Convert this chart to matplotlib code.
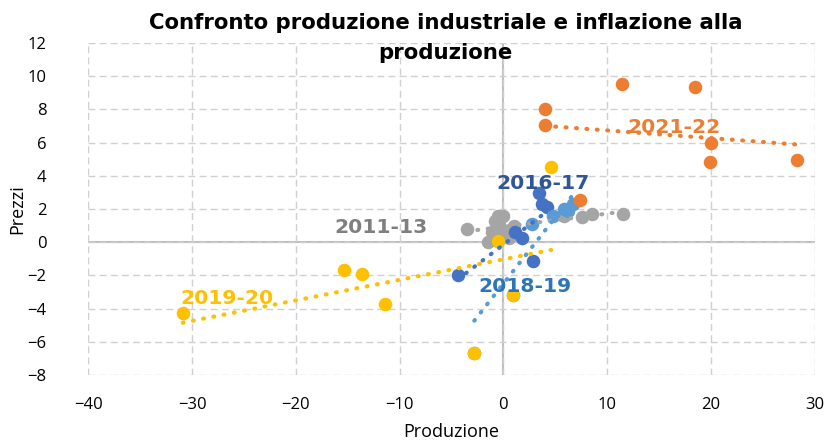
import numpy as np
import matplotlib
matplotlib.use("Agg")
import matplotlib.pyplot as plt

# dati (produzione, prezzi)
prod_1113 = [-3.5, -0.5, 0.0, -0.8, -1.1, -0.1, -1.5, 0.5, 5.8, 7.6, 8.5, 11.5, -0.3, 1.0]
prez_1113 = [0.8, 1.57, 1.6, 1.3, 0.6, 0.7, 0.0, 0.24, 1.57, 1.5, 1.7, 1.7, 0.9, 1.0]

prod_1617 = [-4.4, 3.4, 3.75, 4.2, 1.15, 1.8, 2.9]
prez_1617 = [-2.0, 2.95, 2.3, 2.1, 0.6, 0.24, -1.15]

prod_1819 = [-2.8, 0.9, -0.5, 2.8, 4.8, 5.8, 6.2, 6.7]
prez_1819 = [-6.7, -3.2, 0.1, 1.1, 1.6, 2.0, 1.9, 2.3]

prod_1920 = [-30.9, -15.4, -13.6, -11.4, 4.6, -0.5, 0.9, -2.8]
prez_1920 = [-4.25, -1.65, -1.9, -3.7, 4.5, 0.1, -3.2, -6.7]

prod_2122 = [11.4, 18.5, 4.0, 4.0, 20.0, 19.9, 28.3, 7.4]
prez_2122 = [9.55, 9.35, 8.05, 7.05, 5.95, 4.85, 4.95, 2.55]

series = [
    ("2011-13", prod_1113, prez_1113, "#A5A5A5", "#7F7F7F", (-11.8, 0.9)),
    ("2016-17", prod_1617, prez_1617, "#4472C4", "#2F5597", (3.8, 3.55)),
    ("2018-19", prod_1819, prez_1819, "#5B9BD5", "#2E75B6", (2.1, -2.65)),
    ("2019-20", prod_1920, prez_1920, "#FFC000", "#FFC000", (-26.6, -3.4)),
    ("2021-22", prod_2122, prez_2122, "#ED7D31", "#ED7D31", (16.4, 6.9)),
]

plt.rcParams['font.family'] = ['Open Sans', 'DejaVu Sans']

fig = plt.figure(figsize=(8.33, 4.43), dpi=100)
ax = fig.add_axes([0.106, 0.1535, 0.872, 0.7495])

for name, x, y, col, tcol, pos in series:
    ax.scatter(x, y, s=95, color=col, zorder=3, linewidths=0)
for name, x, y, col, tcol, pos in series:
    m, q = np.polyfit(x, y, 1)
    xs = np.linspace(min(x), max(x), 50)
    ax.plot(xs, m * xs + q, color=col, lw=3, linestyle=(0, (0.2, 2.3)),
            dash_capstyle='round', zorder=4)
for name, x, y, col, tcol, pos in series:
    ax.text(pos[0], pos[1], name, color=tcol, fontsize=14.6, fontweight='bold',
            family='DejaVu Sans', ha='center', va='center', zorder=5)

ax.set_xlim(-40, 30)
ax.set_ylim(-8, 12)
ax.set_xticks(range(-40, 31, 10))
ax.set_yticks(range(-8, 13, 2))
ax.grid(True, color='#D0D0D0', linestyle=(0, (5, 3)), lw=1)
ax.axhline(0, color='#BFBFBF', lw=1.5, zorder=1)
ax.axvline(0, color='#BFBFBF', lw=1.5, zorder=1)
for s in ax.spines.values():
    s.set_visible(False)
ax.tick_params(length=0, labelsize=12, pad=16)
ax.tick_params(axis='y', pad=30)

ax.set_xlabel('Produzione', fontsize=13, labelpad=7)
ax.set_ylabel('Prezzi', fontsize=13, labelpad=1)
fig.text(0.535, 0.947, 'Confronto produzione industriale e inflazione alla',
         fontsize=15.3, fontweight='bold', family='DejaVu Sans',
         ha='center', va='center')
fig.text(0.535, 0.88, 'produzione',
         fontsize=15.3, fontweight='bold', family='DejaVu Sans',
         ha='center', va='center')

fig.savefig('out.png', dpi=100)
